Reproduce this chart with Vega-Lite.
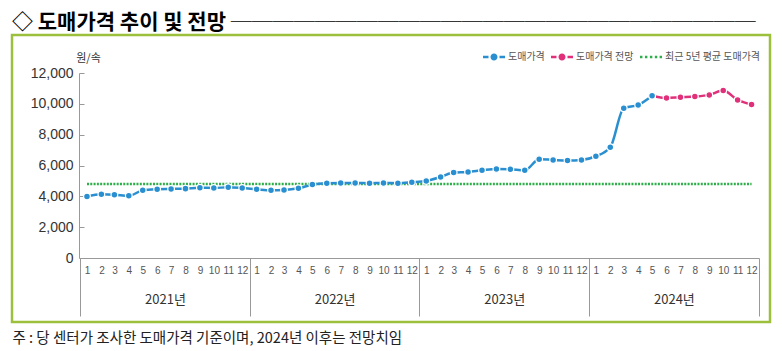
{
  "$schema": "https://vega.github.io/schema/vega-lite/v6.json",
  "width": 758,
  "height": 287,
  "autosize": "none",
  "padding": {"left": 12, "top": 35, "right": 12, "bottom": 29},
  "background": "white",
  "title": {
    "text": "◇ 도매가격 추이 및 전망 ─────────────────────────",
    "anchor": "start",
    "frame": "group",
    "font": "Noto Sans CJK KR",
    "fontSize": 21,
    "fontWeight": "bold",
    "color": "#000",
    "offset": 2
  },
  "config": {
    "view": {"stroke": "#9CBF3C", "strokeWidth": 2.5},
    "font": "Noto Sans CJK KR"
  },
  "datasets": {
    "price": [
      {"date": "2024-05-16", "value": 10530, "series": "도매가격 전망"},
      {"date": "2024-06-16", "value": 10380, "series": "도매가격 전망"},
      {"date": "2024-07-16", "value": 10430, "series": "도매가격 전망"},
      {"date": "2024-08-16", "value": 10470, "series": "도매가격 전망"},
      {"date": "2024-09-16", "value": 10580, "series": "도매가격 전망"},
      {"date": "2024-10-16", "value": 10860, "series": "도매가격 전망"},
      {"date": "2024-11-16", "value": 10250, "series": "도매가격 전망"},
      {"date": "2024-12-16", "value": 9950, "series": "도매가격 전망"},
      {"date": "2021-01-16", "value": 3990, "series": "도매가격"},
      {"date": "2021-02-16", "value": 4130, "series": "도매가격"},
      {"date": "2021-03-16", "value": 4110, "series": "도매가격"},
      {"date": "2021-04-16", "value": 4040, "series": "도매가격"},
      {"date": "2021-05-16", "value": 4390, "series": "도매가격"},
      {"date": "2021-06-16", "value": 4460, "series": "도매가격"},
      {"date": "2021-07-16", "value": 4480, "series": "도매가격"},
      {"date": "2021-08-16", "value": 4500, "series": "도매가격"},
      {"date": "2021-09-16", "value": 4560, "series": "도매가격"},
      {"date": "2021-10-16", "value": 4540, "series": "도매가격"},
      {"date": "2021-11-16", "value": 4590, "series": "도매가격"},
      {"date": "2021-12-16", "value": 4540, "series": "도매가격"},
      {"date": "2022-01-16", "value": 4460, "series": "도매가격"},
      {"date": "2022-02-16", "value": 4390, "series": "도매가격"},
      {"date": "2022-03-16", "value": 4410, "series": "도매가격"},
      {"date": "2022-04-16", "value": 4520, "series": "도매가격"},
      {"date": "2022-05-16", "value": 4760, "series": "도매가격"},
      {"date": "2022-06-16", "value": 4850, "series": "도매가격"},
      {"date": "2022-07-16", "value": 4870, "series": "도매가격"},
      {"date": "2022-08-16", "value": 4870, "series": "도매가격"},
      {"date": "2022-09-16", "value": 4850, "series": "도매가격"},
      {"date": "2022-10-16", "value": 4870, "series": "도매가격"},
      {"date": "2022-11-16", "value": 4850, "series": "도매가격"},
      {"date": "2022-12-16", "value": 4910, "series": "도매가격"},
      {"date": "2023-01-16", "value": 5000, "series": "도매가격"},
      {"date": "2023-02-16", "value": 5260, "series": "도매가격"},
      {"date": "2023-03-16", "value": 5540, "series": "도매가격"},
      {"date": "2023-04-16", "value": 5580, "series": "도매가격"},
      {"date": "2023-05-16", "value": 5690, "series": "도매가격"},
      {"date": "2023-06-16", "value": 5780, "series": "도매가격"},
      {"date": "2023-07-16", "value": 5760, "series": "도매가격"},
      {"date": "2023-08-16", "value": 5690, "series": "도매가격"},
      {"date": "2023-09-16", "value": 6410, "series": "도매가격"},
      {"date": "2023-10-16", "value": 6360, "series": "도매가격"},
      {"date": "2023-11-16", "value": 6320, "series": "도매가격"},
      {"date": "2023-12-16", "value": 6360, "series": "도매가격"},
      {"date": "2024-01-16", "value": 6600, "series": "도매가격"},
      {"date": "2024-02-16", "value": 7180, "series": "도매가격"},
      {"date": "2024-03-16", "value": 9720, "series": "도매가격"},
      {"date": "2024-04-16", "value": 9930, "series": "도매가격"},
      {"date": "2024-05-16", "value": 10530, "series": "도매가격"}
    ],
    "avg": [
      {"date": "2021-01-16", "value": 4800, "series": "최근 5년 평균 도매가격"},
      {"date": "2024-12-16", "value": 4800, "series": "최근 5년 평균 도매가격"}
    ]
  },
  "encoding": {
    "y": {
      "field": "value",
      "type": "quantitative",
      "scale": {"domain": [0, 12000], "range": [223, 38], "nice": false, "zero": true},
      "axis": {
        "orient": "left",
        "offset": -67,
        "values": [0, 2000, 4000, 6000, 8000, 10000, 12000],
        "format": ",.0f",
        "grid": false,
        "tickSize": -5,
        "tickColor": "#999",
        "domainColor": "#999",
        "labelFont": "Liberation Sans",
        "labelFontSize": 14,
        "labelColor": "#333",
        "labelPadding": 11,
        "title": "원/속",
        "titleAngle": 0,
        "titleX": 9,
        "titleY": 23,
        "titleAlign": "center",
        "titleBaseline": "middle",
        "titleFont": "Noto Sans CJK KR",
        "titleFontSize": 11,
        "titleFontWeight": "normal",
        "titleColor": "#333"
      }
    },
    "color": {
      "field": "series",
      "type": "nominal",
      "scale": {"domain": ["도매가격", "도매가격 전망", "최근 5년 평균 도매가격"], "range": ["#2A8FD0", "#E0307A", "#2DAE4A"]},
      "legend": {
        "orient": "none",
        "legendX": 471,
        "legendY": 11,
        "direction": "horizontal",
        "title": null,
        "symbolSize": 484,
        "symbolStrokeWidth": 0,
        "labelFont": "Noto Sans CJK KR",
        "labelFontSize": 10,
        "labelColor": "#555",
        "labelOffset": 3,
        "columnPadding": 6,
        "encode": {
          "symbols": {
            "update": {
              "shape": {"signal": "datum.value === '최근 5년 평균 도매가격' ? 'M-1,-0.11h0.22v0.22h-0.22Z M-0.55,-0.11h0.22v0.22h-0.22Z M-0.1,-0.11h0.22v0.22h-0.22Z M0.35,-0.11h0.22v0.22h-0.22Z M0.78,-0.11h0.22v0.22h-0.22Z' : 'M-1,-0.11H-0.5V0.11H-1Z M0.5,-0.11H1V0.11H0.5Z M0.32,0A0.32,0.32 0 1,1 -0.32,0A0.32,0.32 0 1,1 0.32,0Z'"},
              "fill": {"signal": "datum.value === '도매가격' ? '#2A8FD0' : datum.value === '도매가격 전망' ? '#E0307A' : '#2DAE4A'"},
              "stroke": {"value": "transparent"},
              "strokeWidth": {"value": 0},
              "opacity": {"value": 1},
              "fillOpacity": {"value": 1}
            }
          }
        }
      }
    }
  },
  "resolve": {"axis": {"x": "independent"}},
  "layer": [
    {
      "data": {"name": "avg"},
      "mark": {"type": "line", "strokeWidth": 2.5, "strokeDash": [2, 1.3]},
      "encoding": {
        "x": {
          "field": "date",
          "type": "temporal",
          "scale": {"type": "utc", "domain": [{"year": 2021, "month": 1, "date": 1, "utc": true}, {"year": 2025, "month": 1, "date": 1, "utc": true}], "range": [68, 747], "nice": false},
          "axis": {
            "orient": "bottom",
            "offset": -64,
            "tickCount": {"interval": "year", "step": 1},
            "labels": false,
            "domain": false,
            "ticks": true,
            "tickSize": 58,
            "tickColor": "#999",
            "tickWidth": 1,
            "grid": false,
            "title": null
          }
        }
      }
    },
    {
      "data": {"name": "price"},
      "mark": {"type": "line", "strokeWidth": 2.5, "interpolate": "monotone"},
      "encoding": {
        "x": {
          "field": "date",
          "type": "temporal",
          "axis": {
            "orient": "bottom",
            "offset": -64,
            "tickCount": {"interval": "month", "step": 1},
            "labelExpr": "utcyear(datum.value) > 2024 ? '' : utcFormat(datum.value, '%-m')",
            "labelOffset": 7,
            "labelFlush": false,
            "labelOverlap": false,
            "labelBound": false,
            "ticks": false,
            "domain": true,
            "domainColor": "#999",
            "domainWidth": 1,
            "labelFont": "Liberation Sans",
            "labelFontSize": 10,
            "labelColor": "#555",
            "labelPadding": 7,
            "grid": false,
            "title": null
          }
        }
      }
    },
    {
      "data": {"name": "price"},
      "mark": {"type": "point", "filled": true, "size": 45, "stroke": "white", "strokeWidth": 1.2, "opacity": 1},
      "encoding": {
        "x": {
          "field": "date",
          "type": "temporal",
          "axis": {
            "orient": "bottom",
            "offset": -64,
            "tickCount": {"interval": "year", "step": 1},
            "labelExpr": "utcyear(datum.value) > 2024 ? '' : utcFormat(datum.value, '%Y') + '년'",
            "labelOffset": 85,
            "labelFlush": false,
            "labelOverlap": false,
            "labelBound": false,
            "ticks": false,
            "domain": false,
            "labelFont": "Noto Sans CJK KR",
            "labelFontSize": 13,
            "labelColor": "#333",
            "labelPadding": 35,
            "grid": false,
            "title": "주 : 당 센터가 조사한 도매가격 기준이며, 2024년 이후는 전망치임",
            "titleX": 0,
            "titleY": 80,
            "titleAnchor": null,
            "titleAlign": "left",
            "titleBaseline": "middle",
            "titleFont": "Noto Sans CJK KR",
            "titleFontSize": 14.5,
            "titleFontWeight": "normal",
            "titleColor": "#222"
          }
        }
      }
    }
  ]
}
